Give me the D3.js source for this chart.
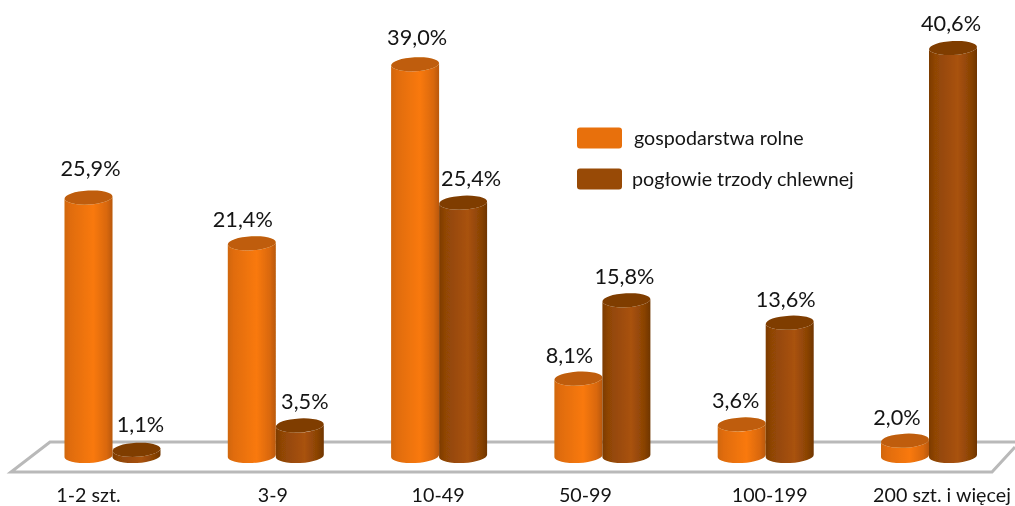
<!DOCTYPE html>
<html><head><meta charset="utf-8">
<script src="https://cdn.jsdelivr.net/npm/d3@7"></script>
<style>html,body{margin:0;padding:0;background:#fff}svg{display:block}text{font-family:Lato,"Open Sans",sans-serif;fill:#141414}</style>
</head><body><svg id="c" width="1015" height="506"></svg>
<script>
const categories = ["1-2 szt.","3-9","10-49","50-99","100-199","200 szt. i więcej"];
const farms = [25.9,21.4,39.0,8.1,3.6,2.0];
const herd = [1.1,3.5,25.4,15.8,13.6,40.6];
const seriesNames = ["gospodarstwa rolne","pogłowie trzody chlewnej"];
const farmLabelNudge = [2,-9,2,-9,-6,-8];
const herdLabelNudge = [4,5,8,-2,-4,-2];
const farmLabelLift = [6,0,3,0,0,0];
const herdLabelLift = [2,0,1,0,0,1];
const catLabelNudge = [-24,-3,-1,-17,4,13];

const W=1015,H=506;
const svg=d3.select("#c");
const x=d3.scalePoint().domain(categories).range([112.5,929]);
const y=d3.scaleLinear().domain([0,40.6]).range([461,48]);
const barW=48, rx=24, ry=7, tilt=-3, baseY=456;
const fmt=v=>v.toFixed(1).replace(".",",")+"%";

const defs=svg.append("defs");
function grad(id,stops){
  const g=defs.append("linearGradient").attr("id",id).attr("x1",0).attr("x2",1).attr("y1",0).attr("y2",0);
  stops.forEach(([o,c])=>g.append("stop").attr("offset",o).attr("stop-color",c));
}
grad("orangeBody",[[0,"#d0660a"],[0.12,"#e06c0a"],[0.6,"#f9790d"],[0.88,"#d9680a"],[1,"#b95808"]]);
grad("brownBody",[[0,"#7c3b05"],[0.12,"#8f4506"],[0.6,"#a9520a"],[0.88,"#884205"],[1,"#6f3504"]]);
defs.append("filter").attr("id","soft").append("feGaussianBlur").attr("stdDeviation",0.5);

// floor
const floor=d3.line();
svg.append("path").attr("d",floor([[1015,442],[50,442],[11,472],[992,472],[1015,447]]))
  .attr("fill","none").attr("stroke","#b9b9b9").attr("stroke-width",3);

const series=[
 {values:farms,body:"url(#orangeBody)",top:"#bf5d08",swatch:"#e8700c",dx:-barW/2,nudge:farmLabelNudge,lift:farmLabelLift},
 {values:herd,body:"url(#brownBody)",top:"#7f3d05",swatch:"#984a06",dx:barW/2,nudge:herdLabelNudge,lift:herdLabelLift}
];

const groups=svg.selectAll("g.cat").data(categories).join("g").attr("class","cat").attr("filter","url(#soft)");
groups.each(function(cat,i){
  const order=series.slice().sort((a,b)=>a.values[i]-b.values[i]);
  const g=d3.select(this);
  order.forEach(s=>{
    const cx=x(cat)+s.dx, t=y(s.values[i]);
    const l=cx-rx, r=cx+rx;
    const dy=Math.sin(tilt*Math.PI/180)*rx;
    g.append("path")
      .attr("d",`M${l},${t-dy} L${l},${baseY-dy} A${rx},${ry} ${tilt} 0 0 ${r},${baseY+dy} L${r},${t+dy} A${rx},${ry} ${tilt} 0 1 ${l},${t-dy} Z`)
      .attr("fill",s.body);
    g.append("ellipse").attr("cx",cx).attr("cy",t).attr("rx",rx).attr("ry",ry)
      .attr("transform",`rotate(${tilt} ${cx} ${t})`).attr("fill",s.top);
  });
});
// value labels
series.forEach(s=>{
  svg.selectAll(null).data(categories).join("text")
    .attr("x",(c,i)=>x(c)+s.dx+s.nudge[i])
    .attr("y",(c,i)=>y(s.values[i])-16-s.lift[i])
    .attr("text-anchor","middle").attr("font-size",21.7)
    .text((c,i)=>fmt(s.values[i]));
});
// category labels
svg.selectAll(null).data(categories).join("text")
  .attr("x",(c,i)=>x(c)+catLabelNudge[i]).attr("y",502)
  .attr("text-anchor","middle").attr("font-size",19.7)
  .text(c=>c);
// legend
const ly=d3.scalePoint().domain(seriesNames).range([138,179]);
seriesNames.forEach((n,i)=>{
  svg.append("rect").attr("x",577).attr("y",ly(n)-10.5).attr("width",45).attr("height",21).attr("rx",3)
    .attr("fill",series[i].swatch);
  svg.append("text").attr("x",i?632:634).attr("y",ly(n)+7).attr("font-size",19.7).text(n);
});
</script></body></html>
